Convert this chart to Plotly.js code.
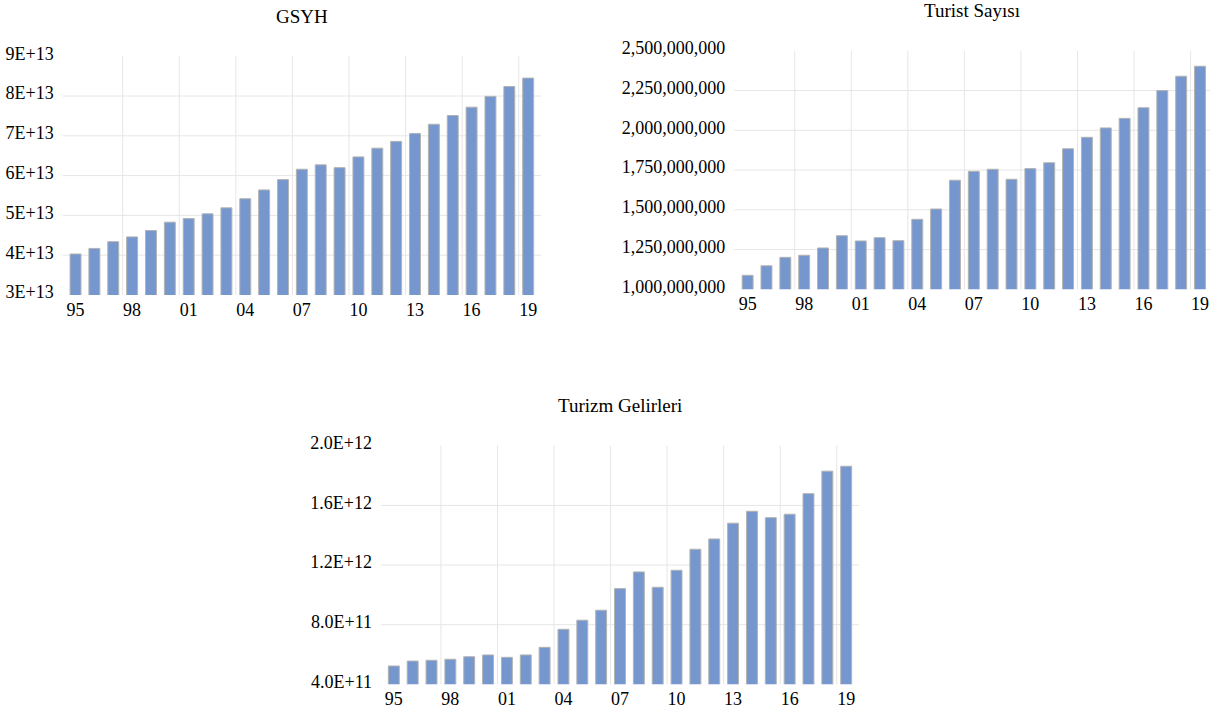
<!DOCTYPE html>
<html>
<head>
<meta charset="utf-8">
<script src="https://cdn.plot.ly/plotly-3.0.1.min.js"></script>
<style>
html,body{margin:0;padding:0;background:#fff;}
#chart{width:1210px;height:711px;}
</style>
</head>
<body>
<div id="chart"></div>
<script>
// ---- data ----
const years = ['95','96','97','98','99','00','01','02','03','04','05','06','07','08','09','10','11','12','13','14','15','16','17','18','19'];
const xTickYears = ['95','98','01','04','07','10','13','16','19'];

const gsyhTitle = 'GSYH';
const gsyh = [4.03e13,4.17e13,4.34e13,4.46e13,4.62e13,4.83e13,4.92e13,5.04e13,5.19e13,5.42e13,5.64e13,5.90e13,6.16e13,6.27e13,6.20e13,6.47e13,6.69e13,6.86e13,7.06e13,7.29e13,7.51e13,7.72e13,7.99e13,8.24e13,8.45e13];
const gsyhTicks = [3e13,4e13,5e13,6e13,7e13,8e13,9e13];
const gsyhTickText = ['3E+13','4E+13','5E+13','6E+13','7E+13','8E+13','9E+13'];

const turistTitle = 'Turist Sayısı';
const turist = [1.088e9,1.148e9,1.201e9,1.214e9,1.260e9,1.337e9,1.304e9,1.325e9,1.306e9,1.440e9,1.505e9,1.686e9,1.742e9,1.755e9,1.692e9,1.759e9,1.796e9,1.884e9,1.956e9,2.015e9,2.075e9,2.142e9,2.250e9,2.340e9,2.403e9];
const turistTicks = [1.0e9,1.25e9,1.5e9,1.75e9,2.0e9,2.25e9,2.5e9];
const turistTickText = ['1,000,000,000','1,250,000,000','1,500,000,000','1,750,000,000','2,000,000,000','2,250,000,000','2,500,000,000'];

const gelirTitle = 'Turizm Gelirleri';
const gelir = [5.23e11,5.56e11,5.61e11,5.68e11,5.85e11,5.97e11,5.81e11,5.97e11,6.48e11,7.69e11,8.30e11,8.97e11,10.42e11,11.54e11,10.51e11,11.65e11,13.06e11,13.75e11,14.81e11,15.61e11,15.18e11,15.41e11,16.79e11,18.30e11,18.63e11];
const gelirTicks = [4e11,8e11,1.2e12,1.6e12,2.0e12];
const gelirTickText = ['4.0E+11','8.0E+11','1.2E+12','1.6E+12','2.0E+12'];

// ---- styling / layout ----
const W = 1210, H = 711;
const FONT = 'Liberation Serif, serif';
const BAR = '#7597CD', BAR_LINE = '#B3B3B3', GRID = '#E6E6E6';
function dx(l, r) { return [l / W, Math.min(1, r / W)]; }
function dy(t, b) { return [1 - b / H, 1 - t / H]; }

const panels = [
  {s: '', title: gsyhTitle, y: gsyh, ticks: gsyhTicks, text: gsyhTickText, range: [3e13, 9e13],
   left: 62.7, right: 541, top: 56.2, bottom: 295, xr: [-0.68, 24.68], ty: 17},
  {s: '2', title: turistTitle, y: turist, ticks: turistTicks, text: turistTickText, range: [1e9, 2.5e9],
   left: 734.3, right: 1210, top: 50.8, bottom: 289.3, xr: [-0.707, 24.53], ty: 10},
  {s: '3', title: gelirTitle, y: gelir, ticks: gelirTicks, text: gelirTickText, range: [4e11, 2e12],
   left: 381, right: 859, top: 445.8, bottom: 684.3, xr: [-0.68, 24.68], ty: 405}
];

const data = [];
const layout = {
  width: W, height: H,
  margin: {l: 0, r: 0, t: 0, b: 0},
  paper_bgcolor: '#fff', plot_bgcolor: 'rgba(0,0,0,0)',
  showlegend: false,
  bargap: 0.42,
  font: {family: FONT, color: '#000', size: 18},
  shapes: [], annotations: []
};

panels.forEach(p => {
  const xa = 'x' + p.s, ya = 'y' + p.s;
  data.push({
    type: 'bar', x: years, y: p.y, xaxis: xa, yaxis: ya,
    marker: {color: BAR, line: {color: BAR_LINE, width: 1}},
    hoverinfo: 'x+y'
  });
  layout['xaxis' + p.s] = {
    domain: dx(p.left, p.right), anchor: ya, type: 'category',
    range: p.xr, tickmode: 'array', tickvals: xTickYears, ticktext: xTickYears,
    showgrid: false, zeroline: false, showline: false, ticks: '',
    ticklabelstandoff: 2,
    tickfont: {family: FONT, size: 18, color: '#000'}, fixedrange: true
  };
  layout['yaxis' + p.s] = {
    domain: dy(p.top, p.bottom), anchor: xa, range: p.range,
    tickmode: 'array', tickvals: p.ticks, ticktext: p.text,
    showgrid: false, zeroline: false, showline: false, ticks: '',
    ticklabelstandoff: 8, ticklabelshift: -3,
    tickfont: {family: FONT, size: 18, color: '#000'}, fixedrange: true
  };
  p.ticks.slice(1, -1).forEach(v => {
    layout.shapes.push({type: 'line', layer: 'below', xref: xa + ' domain', yref: ya,
      x0: 0, x1: 1, y0: v, y1: v, line: {color: GRID, width: 1}});
  });
  for (let i = 3; i < years.length; i += 3) {
    layout.shapes.push({type: 'line', layer: 'below', xref: xa, yref: ya + ' domain',
      x0: i - 0.5, x1: i - 0.5, y0: 0, y1: 1, line: {color: GRID, width: 1}});
  }
  layout.annotations.push({
    text: p.title, xref: 'paper', yref: 'paper',
    x: ((p.left + p.right) / 2) / W, y: 1 - p.ty / H,
    xanchor: 'center', yanchor: 'middle', showarrow: false,
    font: {family: FONT, size: 19, color: '#000'}
  });
});

Plotly.newPlot('chart', data, layout, {displayModeBar: false, staticPlot: true});
</script>
</body>
</html>
